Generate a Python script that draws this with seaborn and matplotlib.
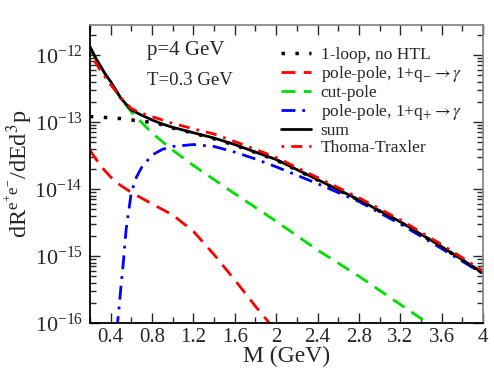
# Load the necessary libraries
import matplotlib
matplotlib.use("Agg")
import matplotlib.pyplot as plt
import seaborn as sns
import numpy as np
import pandas as pd
from matplotlib.ticker import MultipleLocator, LogLocator, NullFormatter, FixedLocator

sns.set_style("ticks")
plt.rcParams['font.family'] = ['Liberation Serif', 'DejaVu Serif']
plt.rcParams['mathtext.fontset'] = 'stix'

##################################
# Data       #
##################################

# sum (black solid)
m_sum = [0.2, 0.25, 0.3, 0.35, 0.4, 0.5, 0.6, 0.7, 0.8, 0.9, 1.0, 1.2, 1.4, 1.6,
         1.8, 2.0, 2.4, 2.8, 3.2, 3.6, 4.0]
r_sum = [1.32e-12, 9.3e-13, 6.9e-13, 5.1e-13, 4.0e-13, 2.24e-13, 1.51e-13, 1.26e-13,
         1.07e-13, 9.3e-14, 8.3e-14, 6.9e-14, 5.75e-14, 4.6e-14, 3.55e-14, 2.75e-14,
         1.38e-14, 6.9e-15, 3.24e-15, 1.38e-15, 5.6e-16]

# 1-loop, no HTL (black dotted)
m_loop = [0.2, 0.3, 0.4, 0.5, 0.6, 0.7, 0.8, 0.9, 1.0, 1.2, 1.4, 1.6, 1.8, 2.0,
          2.4, 2.8, 3.2, 3.6, 4.0]
r_loop = [1.2e-13, 1.18e-13, 1.15e-13, 1.12e-13, 1.07e-13, 1.03e-13, 9.8e-14, 9.1e-14,
          8.1e-14, 6.8e-14, 5.6e-14, 4.5e-14, 3.5e-14, 2.7e-14, 1.36e-14, 6.8e-15,
          3.2e-15, 1.36e-15, 5.5e-16]

# pole-pole, 1+q- -> gamma (red dashed)
m_ppm = [0.2, 0.3, 0.4, 0.5, 0.6, 0.8, 1.0, 1.2, 1.4, 1.6, 1.8, 2.0]
r_ppm = [3.8e-14, 2.24e-14, 1.51e-14, 1.12e-14, 8.9e-15, 6.0e-15, 4.1e-15, 2.34e-15,
         1.05e-15, 4.4e-16, 1.78e-16, 7.6e-17]

# cut-pole (green dashed)
m_cut = [0.2, 0.25, 0.3, 0.35, 0.4, 0.5, 0.6, 0.8, 1.0, 1.2, 1.6, 2.0, 2.4, 2.8,
         3.2, 3.6]
r_cut = [1.32e-12, 9.3e-13, 6.9e-13, 5.1e-13, 3.9e-13, 2.24e-13, 1.41e-13, 6.8e-14,
         3.8e-14, 2.24e-14, 8.5e-15, 3.3e-15, 1.23e-15, 5.0e-16, 1.9e-16, 7.2e-17]

# pole-pole, 1+q+ -> gamma (blue dash-dot)
m_ppp = [0.46, 0.48, 0.5, 0.52, 0.55, 0.6, 0.65, 0.7, 0.8, 0.9, 1.0, 1.2, 1.4, 1.6,
         1.8, 2.0, 2.4, 2.8, 3.2, 3.6, 4.0]
r_ppp = [7.9e-17, 1.58e-16, 3.5e-16, 7.1e-16, 2.5e-15, 8.9e-15, 1.51e-14, 2.1e-14,
         3.2e-14, 3.9e-14, 4.3e-14, 4.6e-14, 4.3e-14, 3.55e-14, 2.8e-14, 2.14e-14,
         1.2e-14, 6.5e-15, 3.0e-15, 1.29e-15, 5.4e-16]

# Thoma-Traxler (red dash-dot)
m_tt = [0.2, 0.25, 0.3, 0.35, 0.4, 0.5, 0.6, 0.7, 0.8, 0.9, 1.0, 1.2, 1.4, 1.6,
        1.8, 2.0, 2.4, 2.8, 3.2, 3.6, 4.0]
r_tt = [1.1e-12, 7.9e-13, 5.9e-13, 4.6e-13, 3.6e-13, 2.29e-13, 1.58e-13, 1.35e-13,
        1.2e-13, 1.07e-13, 9.5e-14, 7.9e-14, 6.6e-14, 5.1e-14, 3.9e-14, 2.95e-14,
        1.48e-14, 7.4e-15, 3.47e-15, 1.48e-15, 6.0e-16]

labels = ["1-loop, no HTL",
          r"pole-pole, 1+q$_{-}$$\rightarrow\gamma$",
          "cut-pole",
          r"pole-pole, 1+q$_{+}$$\rightarrow\gamma$",
          "sum",
          "Thoma-Traxler"]

y_major = [1e-16, 1e-15, 1e-14, 1e-13, 1e-12]

##################################
# Plot                           #
##################################

fig = plt.figure(figsize=(4.94, 3.82), dpi=100)
ax = fig.add_axes([0.182, 0.154, 0.796, 0.781])

sns.lineplot(x=m_loop, y=r_loop, ax=ax, color="black", lw=2.5,
             linestyle=(0, (1, 3)), label=labels[0])
sns.lineplot(x=m_ppm, y=r_ppm, ax=ax, color="#ff0000", lw=2,
             linestyle=(0, (5, 3)), label=labels[1])
sns.lineplot(x=m_cut, y=r_cut, ax=ax, color="#00dd00", lw=2,
             linestyle=(0, (5, 3)), label=labels[2])
sns.lineplot(x=m_ppp, y=r_ppp, ax=ax, color="#0000ff", lw=2,
             linestyle=(0, (5, 2.5, 1, 2.5)), label=labels[3])
sns.lineplot(x=m_sum, y=r_sum, ax=ax, color="black", lw=2,
             linestyle="-", label=labels[4])
sns.lineplot(x=m_tt, y=r_tt, ax=ax, color="#ff0000", lw=2,
             linestyle=(0, (1, 2.5, 4, 2.5)), label=labels[5])

ax.set_yscale("log")
ax.set_xlim(0.2, 4.0)
ax.set_ylim(1e-16, 2.8e-12)

ax.xaxis.set_major_locator(MultipleLocator(0.4))
ax.xaxis.set_minor_locator(MultipleLocator(0.2))
ax.xaxis.set_major_formatter(matplotlib.ticker.FuncFormatter(
    lambda v, p: ("%g" % v)))
ax.yaxis.set_major_locator(FixedLocator(y_major))
ax.yaxis.set_minor_locator(LogLocator(base=10, subs=np.arange(2, 10), numticks=10))
ax.yaxis.set_minor_formatter(NullFormatter())

ax.tick_params(which="both", direction="in", top=True, right=True)
ax.tick_params(axis="x", labelsize=15)
ax.tick_params(axis="y", labelsize=16, pad=5)
ax.tick_params(which="major", length=7, width=1)
ax.tick_params(which="minor", length=4, width=1)

for side in ["left", "bottom"]:
    ax.spines[side].set_color("black")
for side in ["top", "right"]:
    ax.spines[side].set_color("#888888")
for s in ax.spines.values():
    s.set_linewidth(1.3)

ax.set_xlabel("M (GeV)", fontsize=17, labelpad=-1)
ax.set_ylabel(r"dR$^{\mathregular{e^{+}e^{-}}}$/dEd$^{3}$p", fontsize=17.5)
ax.yaxis.set_label_coords(-0.14, 0.5)

ax.text(0.75, 1.0e-12, "p=4 GeV", fontsize=15)
ax.text(0.75, 3.5e-13, "T=0.3 GeV", fontsize=13.5)

ax.legend(loc="upper left", bbox_to_anchor=(0.485, 0.925), frameon=False,
          fontsize=12.5, handlelength=1.75, handletextpad=0.55, labelspacing=0.05,
          borderaxespad=0, borderpad=0)

# Save the image
plt.savefig("out.png", dpi=100)
